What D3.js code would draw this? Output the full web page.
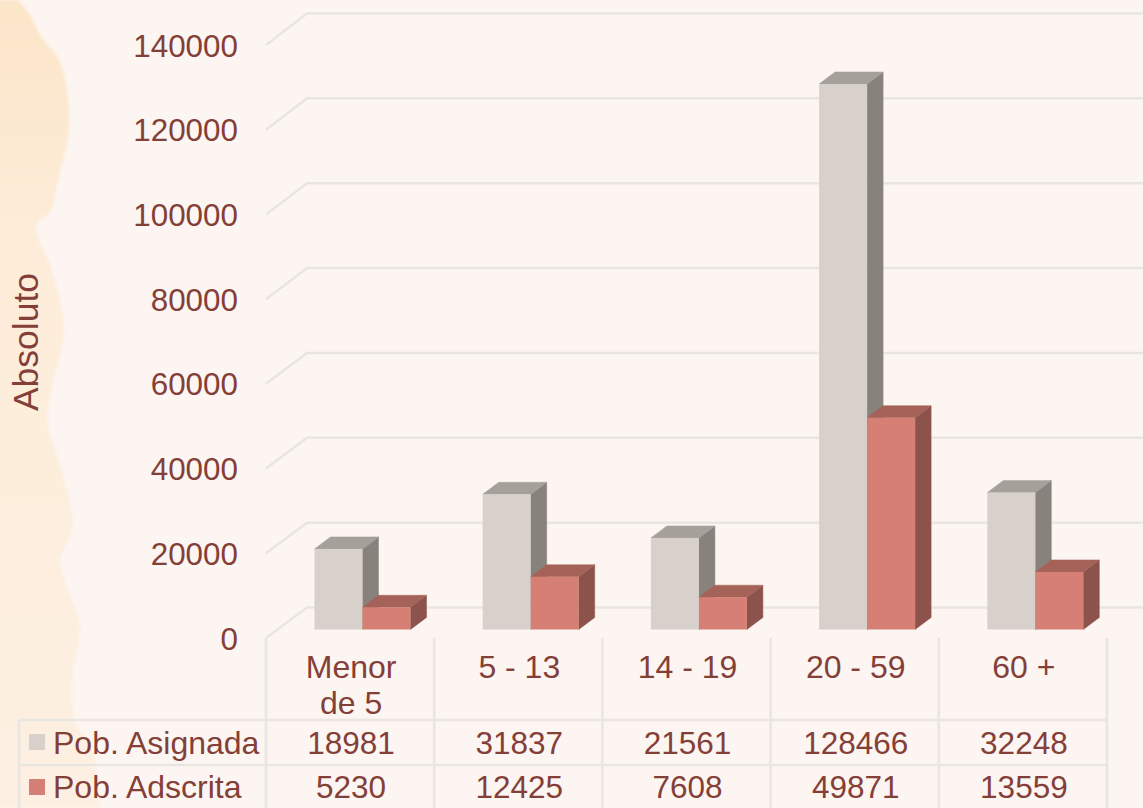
<!DOCTYPE html>
<html>
<head>
<meta charset="utf-8">
<script src="https://cdn.jsdelivr.net/npm/d3@7"></script>
<style>
    html, body { margin: 0; padding: 0; background: #fcf5f1; overflow: hidden; }
    svg { display: block; }
    text { font-family: "Liberation Sans", Arial, sans-serif; fill: #843f38; }
</style>
</head>
<body>
<div id="chart"></div>
<script>
const categories = ['Menor de 5', '5 - 13', '14 - 19', '20 - 59', '60 +'];
const categoryLines = [['Menor', 'de 5'], ['5 - 13'], ['14 - 19'], ['20 - 59'], ['60 +']];
const seriesNames = ['Pob. Asignada', 'Pob. Adscrita'];
const asignada = [18981, 31837, 21561, 128466, 32248];
const adscrita = [5230, 12425, 7608, 49871, 13559];
const yTicks = [0, 20000, 40000, 60000, 80000, 100000, 120000, 140000];

// decorative paper edge on the left of the page
const edgeOuter = [[18,0],[30,15],[42,38],[58,58],[67,90],[69,130],[62,165],[57,185],[50,212],[36,226],[50,265],[62,310],[63,340],[52,385],[48,425],[60,465],[70,505],[72,530],[60,560],[68,590],[80,625],[72,680],[75,720],[93,753],[100,808]];

const width = 1143, height = 808;
const svg = d3.select('#chart').append('svg').attr('width', width).attr('height', height);

const seriesColors = [
    {front: '#d8d0cb', side: '#88827c', top: '#a5a09a'},
    {front: '#d68075', side: '#8b534c', top: '#a56258'}
];
const gridColor = '#e9e6e1';

// background
const defs = svg.append('defs');
const grad = defs.append('linearGradient').attr('id', 'paper').attr('x1', 0).attr('x2', 0).attr('y1', 0).attr('y2', 1);
grad.append('stop').attr('offset', '0%').attr('stop-color', '#fce5c9');
grad.append('stop').attr('offset', '30%').attr('stop-color', '#fdecd8');
grad.append('stop').attr('offset', '100%').attr('stop-color', '#fdf0e2');
defs.append('filter').attr('id', 'soft').append('feGaussianBlur').attr('stdDeviation', 1.6);

svg.append('path')
    .attr('d', d3.area().x0(-10).x1(d => d[0]).y(d => d[1]).curve(d3.curveCatmullRom)(edgeOuter))
    .attr('fill', 'url(#paper)')
    .attr('filter', 'url(#soft)');

// scales
const x = d3.scaleBand().domain(categories).range([266, 1107]);
const xInner = d3.scaleBand().domain(seriesNames).range([48.5, 144.5]);
const yBack = d3.scaleLinear().domain([0, 140000]).range([607.5, 13.5]);
const yFront = d3.scaleLinear().domain([0, 140000]).range([638, 45]);
const yBar = d3.scaleLinear().domain([0, 140000]).range([629.5, 35]);
const depthX = 16, depthY = 12;

// gridlines
const grid = svg.append('g').attr('fill', 'none').attr('stroke', gridColor).attr('stroke-width', 2.5);
yTicks.forEach(t => {
    grid.append('path').attr('d', d3.line()([[266, yFront(t)], [307, yBack(t)], [width, yBack(t)]]));
});

// value axis
const axisG = svg.append('g')
    .attr('transform', 'translate(246,1)')
    .call(d3.axisLeft(yFront).tickValues(yTicks).tickSize(0).tickPadding(8).tickFormat(d3.format('d')));
axisG.select('.domain').remove();
axisG.selectAll('text').attr('font-size', 31.4).style('font-family', '"Liberation Sans", Arial, sans-serif').style('fill', '#843f38');

svg.append('text')
    .attr('transform', 'translate(38,342) rotate(-90)')
    .attr('text-anchor', 'middle')
    .attr('font-size', 35.5)
    .text('Absoluto');

// 3d bars
function drawBar(parent, x0, w, yTop, yBase, colors) {
    parent.append('path').attr('fill', colors.side).attr('stroke', colors.side).attr('stroke-width', 0.5)
        .attr('d', d3.line()([[x0 + w, yTop], [x0 + w + depthX, yTop - depthY], [x0 + w + depthX, yBase - depthY], [x0 + w, yBase]]) + 'Z');
    parent.append('path').attr('fill', colors.top).attr('stroke', colors.top).attr('stroke-width', 0.5)
        .attr('d', d3.line()([[x0, yTop], [x0 + depthX, yTop - depthY], [x0 + w + depthX, yTop - depthY], [x0 + w, yTop]]) + 'Z');
    parent.append('rect').attr('x', x0).attr('y', yTop).attr('width', w).attr('height', yBase - yTop)
        .attr('fill', colors.front);
}

const bars = svg.append('g');
categories.forEach((c, i) => {
    [asignada, adscrita].forEach((values, s) => {
        drawBar(bars, x(c) + xInner(seriesNames[s]), xInner.bandwidth(), yBar(values[i]), yBar(0), seriesColors[s]);
    });
});

// data table
const rowLines = [720, 765];
const table = svg.append('g').attr('stroke', gridColor).attr('stroke-width', 2.5).attr('fill', 'none');
rowLines.forEach(y => {
    table.append('line').attr('x1', 19).attr('x2', 1107).attr('y1', y).attr('y2', y);
});
table.append('line').attr('x1', 19).attr('x2', 19).attr('y1', 720).attr('y2', height);
x.domain().concat(['end']).forEach((c, i) => {
    const px = x.range()[0] + i * x.bandwidth();
    table.append('line').attr('x1', px).attr('x2', px).attr('y1', 638).attr('y2', height);
});

categories.forEach((c, i) => {
    const cx = x(c) + x.bandwidth() / 2;
    categoryLines[i].forEach((line, j) => {
        svg.append('text').attr('x', cx + 1).attr('y', 678 + j * 36)
            .attr('text-anchor', 'middle').attr('font-size', 32).text(line);
    });
    svg.append('text').attr('x', cx + 1).attr('y', 754).attr('text-anchor', 'middle').attr('font-size', 31.5).text(asignada[i]);
    svg.append('text').attr('x', cx + 1).attr('y', 797.5).attr('text-anchor', 'middle').attr('font-size', 31.5).text(adscrita[i]);
});

// legend keys in the table
seriesNames.forEach((name, s) => {
    const base = s === 0 ? 754 : 797.5;
    svg.append('rect').attr('x', 29).attr('y', s === 0 ? 734 : 779).attr('width', 16).attr('height', 16)
        .attr('fill', seriesColors[s].front);
    svg.append('text').attr('x', 53).attr('y', base).attr('font-size', 32).text(name);
});
</script>
</body>
</html>
